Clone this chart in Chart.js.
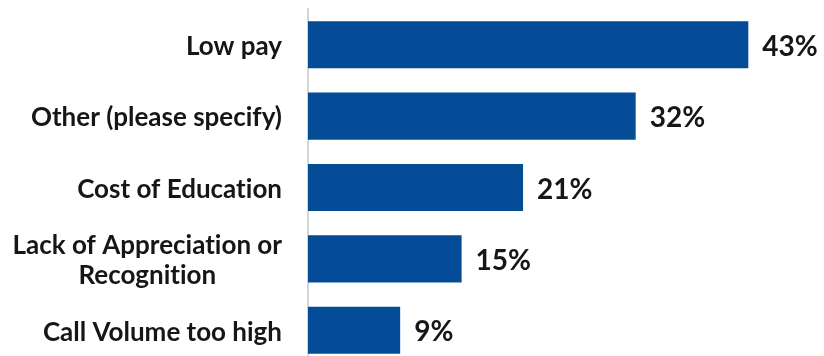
<!DOCTYPE html>
<html>
<head>
<meta charset="utf-8">
<script src="https://cdn.jsdelivr.net/npm/chart.js@4"></script>
<style>
  html, body { margin: 0; padding: 0; background: #fff; overflow: hidden; }
  #wrap { width: 824px; height: 366px; }
</style>
</head>
<body>
<div id="wrap"><canvas id="myChart"></canvas></div>
<script>
var reasons = [
    ['Low pay'],
    ['Other (please specify)'],
    ['Cost of Education'],
    ['Lack of Appreciation or', 'Recognition'],
    ['Call Volume too high']
];
var shares = [43, 32, 21, 15, 9];

var ctx = document.getElementById('myChart');

// category names, right aligned, multi-line ones centred on their block
var categoryText = {
    id: 'categoryText',
    afterDraw: function (chart) {
        var c = chart.ctx, y = chart.scales.y;
        var right = chart.chartArea.left - 26;
        c.save();
        c.font = 'bold 26px Lato';
        c.textRendering = 'optimizeSpeed';
        c.fillStyle = '#161616';
        c.textBaseline = 'middle';
        reasons.forEach(function (lines, i) {
            var mid = y.getPixelForTick(i) + 2;
            var lh = 30;
            var widths = lines.map(function (l) { return c.measureText(l).width; });
            var maxW = Math.max.apply(null, widths);
            lines.forEach(function (l, k) {
                var ly = mid + (k - (lines.length - 1) / 2) * lh;
                c.textAlign = 'center';
                c.fillText(l, right - maxW / 2, ly);
            });
        });
        c.restore();
    }
};

// percentage after the end of each bar
var valueText = {
    id: 'valueText',
    afterDatasetsDraw: function (chart) {
        var c = chart.ctx;
        var meta = chart.getDatasetMeta(0);
        c.save();
        c.font = 'bold 28px Lato';
        c.fillStyle = '#161616';
        c.textAlign = 'left';
        c.textBaseline = 'middle';
        meta.data.forEach(function (bar, i) {
            c.fillText(shares[i] + '%', bar.x + 14, bar.y + 2);
        });
        c.restore();
    }
};

var myChart = new Chart(ctx, {
    type: 'bar',
    data: {
        labels: reasons,
        datasets: [{
            data: shares,
            backgroundColor: '#044C97',
            borderWidth: 0,
            barPercentage: 0.66,
            categoryPercentage: 1
        }]
    },
    options: {
        indexAxis: 'y',
        responsive: true,
        maintainAspectRatio: false,
        animation: false,
        layout: { padding: { top: 9, right: 4, bottom: 0, left: 0 } },
        plugins: {
            legend: { display: false },
            tooltip: { enabled: false }
        },
        scales: {
            x: {
                display: false,
                min: 0,
                max: 50
            },
            y: {
                ticks: { display: false },
                grid: { display: false, drawTicks: false },
                border: { display: true, color: '#d4d4d4', width: 2 },
                afterFit: function (scale) { scale.width = 308; }
            }
        }
    },
    plugins: [categoryText, valueText]
});
</script>
</body>
</html>
